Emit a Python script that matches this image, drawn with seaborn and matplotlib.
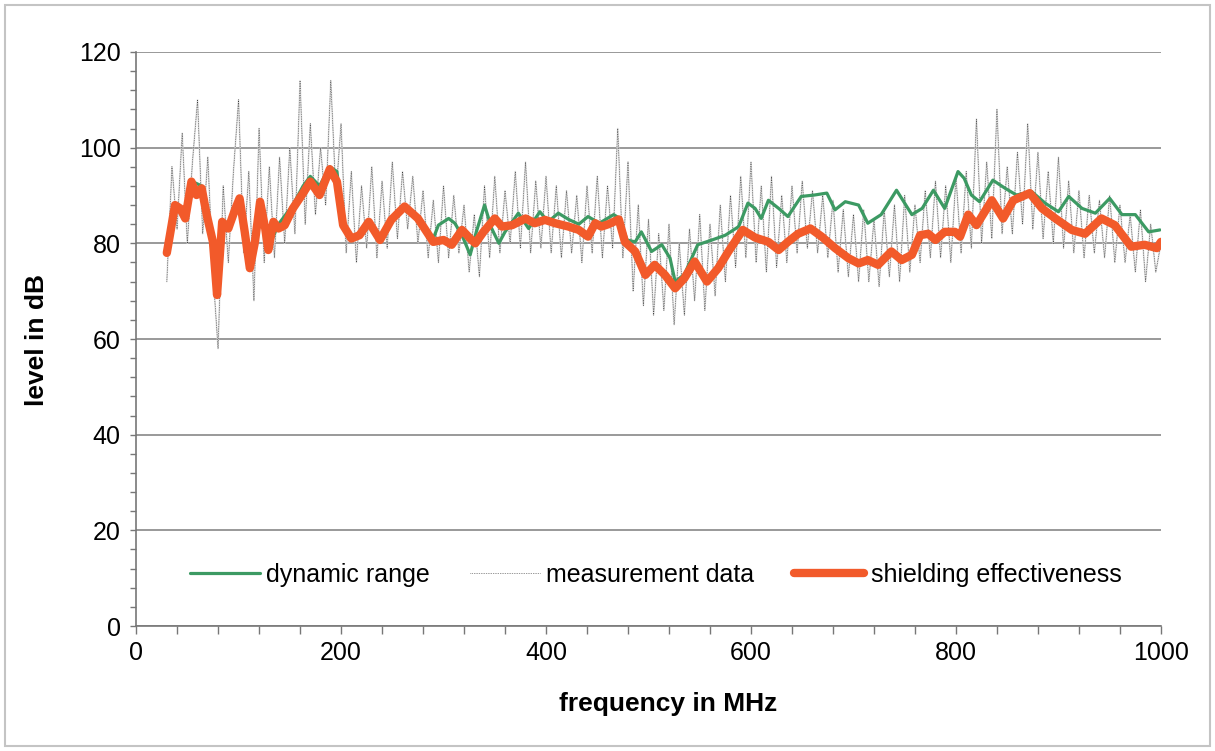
import numpy as np
import matplotlib
matplotlib.use("Agg")
import matplotlib.pyplot as plt
import seaborn as sns
from matplotlib.lines import Line2D
from matplotlib.patches import Rectangle
from matplotlib.ticker import MultipleLocator

# shielding effectiveness (thick orange curve)
se_freq = [30, 33, 38, 43, 48, 54, 59, 64, 69, 75,
           79, 84, 90, 97, 101, 106, 111, 116, 121, 126,
           129, 134, 139, 145, 153, 163, 170, 179, 189, 196,
           202, 210, 218, 227, 238, 249, 262, 275, 290, 300,
           308, 318, 326, 331, 339, 350, 357, 367, 380, 389,
           399, 409, 422, 432, 441, 448, 454, 461, 471, 477,
           487, 497, 506, 516, 526, 535, 545, 557, 568, 578,
           592, 604, 617, 627, 636, 646, 658, 669, 682, 695,
           705, 714, 724, 737, 747, 757, 765, 773, 780, 789,
           799, 804, 812, 820, 835, 846, 856, 872, 884, 897,
           913, 926, 942, 955, 971, 984, 996, 1000]
se_level = [78, 81.7, 88, 87.3, 85.2, 92.9, 90.1, 91.5, 85.9, 80.3,
            69.2, 84.5, 83.1, 87.3, 89.4, 82.4, 74.8, 80.3, 88.7, 83.1,
            78.6, 84.5, 83.1, 83.8, 87.3, 90.5, 92.9, 90.1, 95.5, 92.9,
            83.8, 81, 81.7, 84.5, 80.7, 84.9, 87.7, 85.2, 80.3, 80.7,
            79.7, 82.8, 81, 80, 82.4, 85.2, 83.5, 83.8, 85.2, 84.2,
            84.9, 84.2, 83.5, 82.8, 81.4, 84.2, 83.5, 84, 85, 80.3,
            78.3, 73.4, 75.5, 73.4, 70.6, 72.7, 76.2, 72, 74.8, 78.3,
            82.8, 81.2, 80.3, 78.6, 80.3, 82, 83.1, 81.4, 79, 76.9,
            75.8, 76.5, 75.5, 78.3, 76.5, 77.6, 81.7, 82, 80.7, 82.4,
            82.4, 81.4, 86, 83.8, 89, 85.2, 89, 90.5, 87.3, 85.2,
            82.8, 82, 85.2, 83.8, 79.3, 79.7, 79, 80.3]

# dynamic range (green)
dr_freq = [30, 38, 48, 54, 64, 69, 75, 79, 84, 90,
           97, 101, 106, 111, 116, 121, 129, 139, 153, 163,
           170, 179, 189, 196, 202, 210, 218, 227, 238, 249,
           262, 275, 290, 295, 305, 311, 318, 326, 332, 340,
           347, 354, 360, 373, 383, 394, 402, 412, 422, 432,
           441, 452, 466, 472, 479, 487, 493, 503, 513, 521,
           526, 535, 548, 562, 575, 588, 597, 604, 610, 617,
           627, 636, 649, 662, 674, 682, 692, 705, 714, 727,
           742, 757, 767, 778, 789, 802, 808, 815, 823, 836,
           848, 859, 874, 887, 900, 910, 923, 936, 950, 962,
           975, 988, 999]
dr_level = [78, 88, 86, 93, 92, 86, 80.5, 69.5, 85, 84,
            88, 89.5, 83, 75, 81, 89, 79, 84, 88, 92,
            94, 92, 96, 95, 84, 81.5, 82, 84.5, 81, 85,
            87, 85, 81, 83.8, 85.2, 84.2, 81.7, 77.6, 82.4, 88,
            83.1, 80, 82.4, 86.3, 83.1, 86.6, 84.5, 86.3, 85, 84,
            85.6, 84.2, 86, 85.2, 80.7, 80.3, 82.4, 78.3, 79.7, 76.9,
            72, 73.5, 79.7, 80.7, 81.7, 83.5, 88.4, 87.3, 85.2, 89,
            87.3, 85.6, 89.8, 90.1, 90.5, 87, 88.7, 88, 84.2, 86,
            91.1, 86, 87.3, 91.1, 87.3, 95, 93.6, 90.1, 88.7, 93.2,
            91.5, 90.1, 90.8, 88.4, 86.6, 89.8, 87.3, 86.3, 89.4, 86,
            86, 82.4, 82.8]

# measurement data, one reading every 5 MHz from 30 to 1000 MHz
meas_freq = np.arange(30, 1001, 5)
meas_level = [72, 96, 83, 103, 80, 97, 110, 82, 98, 74,
              58, 92, 76, 95, 110, 78, 95, 68, 104, 76,
              96, 77, 98, 80, 100, 82, 114, 84, 105, 86,
              100, 88, 114, 90, 105, 78, 95, 76, 92, 79,
              96, 77, 93, 79, 97, 81, 95, 83, 94, 80,
              91, 77, 89, 76, 92, 77, 90, 78, 88, 74,
              86, 73, 92, 77, 94, 78, 91, 80, 95, 79,
              97, 78, 93, 79, 94, 78, 92, 77, 91, 78,
              90, 76, 92, 78, 94, 77, 92, 79, 104, 77,
              97, 70, 88, 67, 85, 65, 82, 66, 84, 63,
              80, 65, 83, 68, 86, 66, 84, 69, 88, 72,
              90, 75, 94, 77, 97, 76, 92, 74, 94, 75,
              90, 76, 92, 78, 93, 79, 91, 78, 90, 77,
              89, 74, 87, 73, 86, 72, 87, 72, 85, 71,
              87, 73, 88, 72, 90, 74, 88, 76, 91, 77,
              93, 77, 92, 76, 94, 78, 95, 79, 106, 80,
              97, 81, 108, 82, 96, 82, 99, 84, 105, 83,
              99, 81, 95, 80, 98, 79, 93, 78, 91, 77,
              90, 78, 89, 77, 90, 76, 88, 76, 86, 74,
              87, 72, 84, 74, 80]

green = "#3c9a63"
orange = "#f25a2a"

sns.set_theme(style="white")
plt.rcParams["font.family"] = ["Liberation Sans", "DejaVu Sans"]
plt.rcParams["text.color"] = "black"
plt.rcParams["axes.labelcolor"] = "black"
plt.rcParams["xtick.color"] = "black"
plt.rcParams["ytick.color"] = "black"

fig = plt.figure(figsize=(12.15, 7.51), dpi=100)
ax = fig.add_axes([0.112, 0.1664, 0.8435, 0.7644])

# measurement data: light grey haze plus the thin dotted trace
sns.lineplot(x=meas_freq, y=meas_level, ax=ax, color="#dadada", linewidth=1.2, alpha=0.8)
sns.lineplot(x=meas_freq, y=meas_level, ax=ax, color="#333333", linewidth=0.5,
             linestyle=(0, (1, 1.5)))
sns.lineplot(x=dr_freq, y=dr_level, ax=ax, color=green, linewidth=2.3,
             solid_joinstyle="round")
sns.lineplot(x=se_freq, y=se_level, ax=ax, color=orange, linewidth=6,
             solid_joinstyle="round", solid_capstyle="round")

ax.set_xlim(0, 1000)
ax.set_ylim(0, 120)
ax.xaxis.set_major_locator(MultipleLocator(200))
ax.xaxis.set_minor_locator(MultipleLocator(40))
ax.yaxis.set_major_locator(MultipleLocator(20))
ax.yaxis.set_minor_locator(MultipleLocator(4))
ax.tick_params(axis="x", which="both", direction="out", length=6, width=1, color="#777777",
               bottom=True, labelsize=18, pad=5)
ax.tick_params(axis="y", which="both", direction="out", length=4, width=1, color="#777777",
               left=True, labelsize=18, pad=7)
ax.grid(axis="y", which="major", color="#999999", linewidth=1.4)
ax.grid(axis="x", visible=False)
for side in ["top", "right"]:
    ax.spines[side].set_visible(False)
for side in ["left", "bottom"]:
    ax.spines[side].set_color("#777777")
    ax.spines[side].set_linewidth(1.2)

ax.set_xlabel("frequency in MHz", fontsize=19, fontweight="bold")
ax.set_ylabel("level in dB", fontsize=19, fontweight="bold")
ax.xaxis.set_label_coords(0.519, -0.115)
ax.yaxis.set_label_coords(-0.085, 0.498)

handles = [
    Line2D([], [], color=green, linewidth=2.3),
    Line2D([], [], color="#333333", linewidth=0.5, linestyle=(0, (1, 1.5))),
    Line2D([], [], color=orange, linewidth=6),
]
labels = ["dynamic range", "measurement data", "shielding effectiveness"]
ax.legend(handles, labels, loc="center", bbox_to_anchor=(0.507, 0.089), ncol=3,
          frameon=False, fontsize=18, handlelength=2.8, handletextpad=0.25,
          columnspacing=1.6)

fig.patches.append(Rectangle((0.004, 0.006), 0.992, 0.988, transform=fig.transFigure,
                             fill=False, edgecolor="#c4c4c4", linewidth=1.5))

fig.savefig("out.png", dpi=100)
